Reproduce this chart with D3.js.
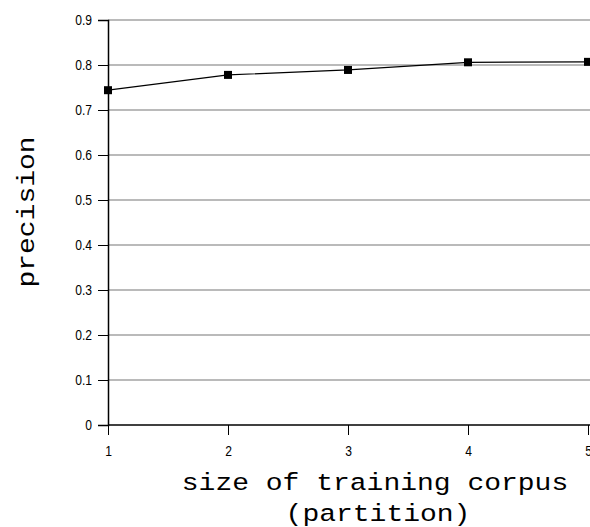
<!DOCTYPE html>
<html><head><meta charset="utf-8">
<script src="https://cdn.jsdelivr.net/npm/d3@7"></script>
<style>body{margin:0;background:#fff}svg{display:block}</style>
</head><body>
<svg id="c" width="590" height="527"></svg>
<script>
const partitions = [1, 2, 3, 4, 5];
const precision = [0.744, 0.778, 0.789, 0.806, 0.807];
const yTicks = [0, 0.1, 0.2, 0.3, 0.4, 0.5, 0.6, 0.7, 0.8, 0.9];
const xTicks = [1, 2, 3, 4, 5];

const svg = d3.select("#c");
const x = d3.scaleLinear().domain([1, 5]).range([108, 588]);
const y = d3.scaleLinear().domain([0, 0.9]).range([425, 20]);

// gridlines
svg.append("g").selectAll("line").data(yTicks.filter(d => d > 0)).join("line")
  .attr("x1", 108).attr("x2", 590)
  .attr("y1", d => y(d)).attr("y2", d => y(d))
  .attr("stroke", "#777").attr("stroke-width", 1.2);

const sx = 0.78;
const yAxis = svg.append("g").attr("transform", "translate(108,0)")
  .call(d3.axisLeft(y).tickValues(yTicks).tickSize(10).tickPadding(6).tickFormat(d => d === 0 ? "0" : d3.format(".1f")(d)));
const xAxis = svg.append("g").attr("transform", "translate(0,425)")
  .call(d3.axisBottom(x).tickValues(xTicks).tickSize(10).tickPadding(10).tickFormat(d3.format("d")));
[yAxis, xAxis].forEach(a => {
  a.attr("font-size", null).attr("font-family", null);
  a.select(".domain").attr("stroke", "#000").attr("stroke-width", 1.5);
  a.selectAll(".tick line").attr("stroke", "#000");
  a.selectAll("text")
    .style("font-family", "Liberation Sans, Arial, sans-serif").style("font-size", "15.5px").attr("fill", "#000");
});
yAxis.selectAll("text").attr("x", -16 / sx).attr("transform", `scale(${sx},1)`);
xAxis.selectAll("text").attr("transform", `scale(${sx},1)`);
xAxis.select(".domain").attr("d", "M108,0H590");

const line = d3.line().x((d, i) => x(partitions[i])).y(d => y(d));
svg.append("path").datum(precision).attr("d", line)
  .attr("fill", "none").attr("stroke", "#000").attr("stroke-width", 1.2);
svg.append("g").selectAll("rect").data(precision).join("rect")
  .attr("x", (d, i) => x(partitions[i]) - 4).attr("y", d => y(d) - 4)
  .attr("width", 8).attr("height", 8).attr("fill", "#000");

const mono = "Liberation Mono, Courier New, monospace";
const sy = 0.86;
svg.append("text").attr("transform", `translate(375,490) scale(1,${sy})`).attr("text-anchor", "middle")
  .attr("font-family", mono).attr("font-size", 28).text("size of training corpus");
svg.append("text").attr("transform", `translate(378,521) scale(1,${sy})`).attr("text-anchor", "middle")
  .attr("font-family", mono).attr("font-size", 28).text("(partition)");
svg.append("text").attr("transform", `translate(34,212) rotate(-90) scale(1,${sy})`).attr("text-anchor", "middle")
  .attr("font-family", mono).attr("font-size", 28).text("precision");
</script>
</body></html>
